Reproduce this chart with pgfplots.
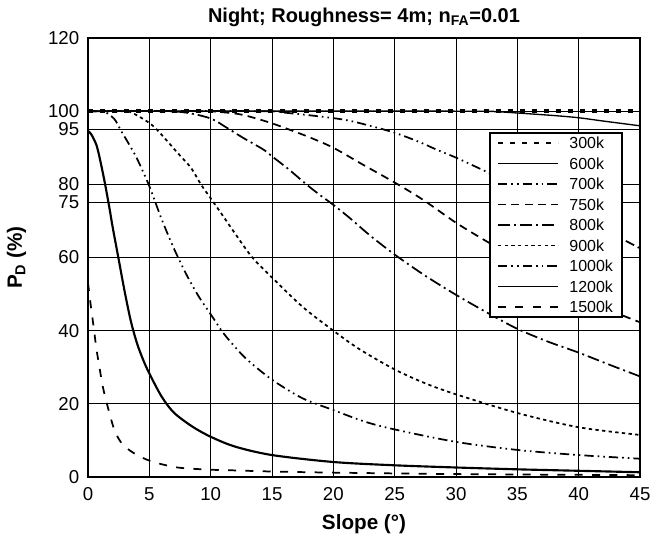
\documentclass[border=0pt]{standalone}
\usepackage{pgfplots}
\pgfplotsset{compat=1.18}
\usepackage{fontspec}
\setmainfont{Liberation Sans}
\begin{document}
\begin{tikzpicture}
\begin{axis}[
  name=ax,
  at={(0,0)}, anchor=south west,
  scale only axis, width=414pt, height=329.25pt,
  xmin=0, xmax=45, ymin=0, ymax=120,
  xtick={0,5,...,45},
  ytick={0,20,40,60,75,80,95,100,120},
  /pgf/number format/assume math mode=true,
  ticklabel style={font=\fontsize{14}{16}\selectfont},
  yticklabel style={inner sep=0pt, xshift=-6.4pt},
  xticklabel style={inner sep=0pt, yshift=-7.5pt},
  major tick length=0pt,
  grid=major,
  major grid style={black, line width=0.75pt},
  axis line style={black, line width=1.3pt},
  every axis title shift=0pt,
  title={Night; Roughness= 4m; n\textsubscript{FA}=0.01},
  title style={font=\bfseries\fontsize{15}{17}\selectfont, at={(axis description cs:0.5,1.0349)}, anchor=base},
  xlabel={Slope (°)},
  xlabel style={font=\bfseries\fontsize{15.5}{17}\selectfont, at={(axis description cs:0.5,-0.1185)}, anchor=base},
  ylabel={P\textsubscript{D} (\%)},
  ylabel style={font=\bfseries\fontsize{15.5}{17}\selectfont, at={(axis description cs:-0.1196,0.5)}, anchor=base},
  legend cell align=left,
  legend style={at={(axis description cs:0.7264,0.786)}, anchor=north west,
     draw=black, line width=1.4pt, fill=white,
     font=\fontsize{12}{14}\selectfont,
     inner xsep=5.5pt, inner ysep=2pt, row sep=4.4pt, column sep=6.6pt,
     nodes={inner sep=1.2pt, text height=8.6pt, text depth=0pt}},
  legend image code/.code={\draw[line width=1.3pt, #1] (0pt,0pt) -- (45pt,0pt);},
  every axis plot/.append style={black, line width=1.3pt},
]
% 300k
\addplot[line width=2.6pt, dash pattern=on 4pt off 5pt] coordinates {(0,100) (45,100)};
\addlegendentry{300k}
% 600k
\addplot[line width=1pt, smooth] coordinates {(0,100) (30,100) (33,99.9) (35,99.5) (38,98.8) (40,98.2) (42,97.3) (45,96)};
\addlegendentry{600k}
% 700k
\addplot[smooth, dash pattern=on 7pt off 3pt on 1.2pt off 3pt on 1.2pt off 3pt] coordinates {(0,100) (14,100) (16,99.6) (18,98.9) (20,98.1) (21.3,97.4) (23,96) (25,94.1) (27,91.6) (28.4,89.5) (30,87.3) (32,84.2) (35,79.5) (38,74.5) (40,71) (43,66) (45,62.5)};
\addlegendentry{700k}
% 750k
\addplot[smooth, dash pattern=on 6pt off 4pt] coordinates {(0,100) (9,100) (11,99.7) (12.6,99) (14.8,96.9) (16.7,94.6) (18.1,92.8) (20,90) (22.4,85.4) (25,80.5) (27.3,75.8) (30,69.5) (32.2,65) (35,59.5) (38,53.5) (40,50) (43,45) (45,42.3)};
\addlegendentry{750k}
% 800k
\addplot[smooth, dash pattern=on 9pt off 3pt on 1.5pt off 3pt] coordinates {(0,100) (6,100) (8,99.6) (10,98) (11.3,95.5) (12.6,92.8) (14.3,89.5) (15.1,87.4) (16.4,84) (17.8,80) (18.9,77.1) (20,74.4) (21.3,70.9) (23,66) (25,60.8) (27.5,55) (30,49.8) (32.5,45) (35,40.5) (37.5,37) (40,34) (42.5,30.7) (45,27.5)};
\addlegendentry{800k}
% 900k
\addplot[smooth, dash pattern=on 2.5pt off 2.5pt] coordinates {(0,100) (2.5,100) (3.5,99.7) (5.15,96.4) (6.2,92.8) (7.3,88.6) (8.4,84.5) (9.2,80) (10,76.2) (11.1,70.9) (12,66.5) (13.4,60) (15.1,54.2) (17.5,46.5) (20,40) (22.1,35) (25,29.4) (27.5,25.6) (30,22.6) (35,17.5) (40,13.6) (45,11.5)};
\addlegendentry{900k}
% 1000k
\addplot[smooth, dash pattern=on 7pt off 3pt on 1.2pt off 3pt on 1.2pt off 3pt] coordinates {(0,100) (1,100) (1.4,99.8) (2.16,97.8) (2.7,94.6) (3.25,91.5) (4,87) (5,79.5) (6,70.5) (7,62.5) (8,55.5) (9,49.5) (10,44.5) (11,39.5) (12,35.5) (13,32) (15,26.6) (17.5,21.5) (20,18.3) (22.5,15.2) (25,13) (30,9.6) (35,7.4) (40,6) (45,5)};
\addlegendentry{1000k}
% 1200k
\addplot[smooth, line width=1.6pt] coordinates {(0,94.6) (0.26,93.7) (0.67,90.9) (0.94,87.4) (1.35,80.8) (1.75,73.5) (2,68.5) (2.5,59.5) (3,50.5) (3.5,42.5) (4,36.5) (4.5,32) (5,28.3) (6,22) (7,17.6) (8.5,13.8) (10,11) (12,8.3) (15,6) (20,4.1) (25,3.2) (30,2.6) (35,2.1) (40,1.7) (45,1.3)};
\addlegendentry{1200k}
% 1500k
\addplot[smooth, dash pattern=on 6pt off 7pt] coordinates {(0,53) (0.26,46) (0.5,40) (0.67,35.4) (0.94,29.9) (1.2,24.8) (1.6,19.3) (2.16,12.8) (2.8,9) (3.8,6.4) (5.15,4.3) (7.3,2.6) (10,2) (12,1.8) (15,1.5) (20,1.2) (30,0.8) (45,0.5)};
\addlegendentry{1500k}
\end{axis}
\pgfresetboundingbox
\path (-66pt,-47.25pt) rectangle (428.25pt,357.75pt);
\end{tikzpicture}
\end{document}
